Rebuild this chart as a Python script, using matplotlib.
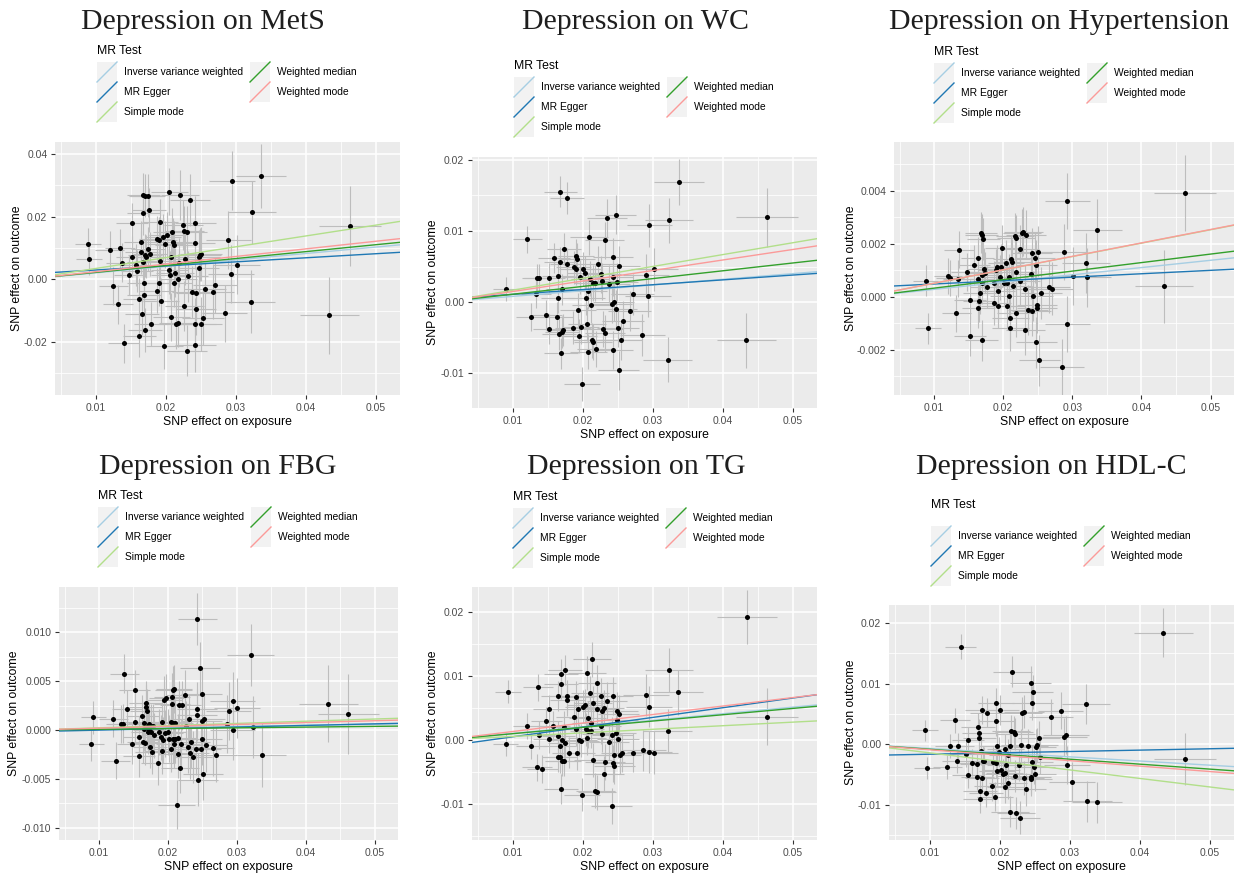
import matplotlib.pyplot as plt
from matplotlib.patches import Rectangle
from matplotlib.lines import Line2D
from matplotlib.ticker import MultipleLocator

plt.rcParams['font.family'] = ['Liberation Sans', 'DejaVu Sans']

W, H = 1250, 874

methods = ['Inverse variance weighted', 'MR Egger', 'Simple mode', 'Weighted median', 'Weighted mode']
method_colors = ['#a6cee3', '#1f78b4', '#b2df8a', '#33a02c', '#fb9a99']

x_ticks = [0.01, 0.02, 0.03, 0.04, 0.05]
x_ticklabels = ['0.01', '0.02', '0.03', '0.04', '0.05']

# ---- Depression on MetS
mets_x = [0.0089, 0.0091, 0.0120, 0.0134, 0.0137, 0.0125, 0.0132, 0.0140, 0.0148, 0.0152,
          0.0152, 0.0157, 0.0159, 0.0162, 0.0162, 0.0164, 0.0165, 0.0166, 0.0168, 0.0168,
          0.0169, 0.0169, 0.0170, 0.0171, 0.0174, 0.0172, 0.0170, 0.0174, 0.0176, 0.0177,
          0.0168, 0.0179, 0.0187, 0.0187, 0.0190, 0.0191, 0.0192, 0.0193, 0.0192, 0.0196,
          0.0198, 0.0199, 0.0202, 0.0205, 0.0205, 0.0206, 0.0207, 0.0208, 0.0209, 0.0210,
          0.0211, 0.0212, 0.0213, 0.0215, 0.0217, 0.0218, 0.0219, 0.0220, 0.0225, 0.0226,
          0.0226, 0.0228, 0.0230, 0.0230, 0.0232, 0.0234, 0.0237, 0.0241, 0.0242, 0.0242,
          0.0242, 0.0243, 0.0243, 0.0247, 0.0248, 0.0249, 0.0250, 0.0250, 0.0253, 0.0256,
          0.0267, 0.0270, 0.0284, 0.0289, 0.0293, 0.0294, 0.0301, 0.0321, 0.0323, 0.0336,
          0.0433, 0.0463]
mets_y = [0.0112, 0.0066, 0.0094, 0.0099, 0.0053, -0.0021, -0.0080, -0.0204, 0.0013, 0.0179,
          0.0072, 0.0045, 0.0027, -0.0064, -0.0180, 0.0119, 0.0086, -0.0111, 0.0269, 0.0211,
          -0.0012, -0.0049, -0.0162, 0.0267, 0.0267, 0.0072, 0.0077, 0.0096, 0.0221, 0.0080,
          0.0056, -0.0143, -0.0036, 0.0130, 0.0126, -0.0011, 0.0184, -0.0069, 0.0059, 0.0134,
          -0.0213, 0.0112, 0.0140, 0.0280, 0.0030, 0.0014, 0.0070, -0.0121, 0.0152, 0.0118,
          -0.0011, 0.0110, 0.0021, -0.0143, 0.0002, -0.0138, 0.0053, 0.0269, 0.0174, 0.0154,
          -0.0085, 0.0064, -0.0228, 0.0152, 0.0009, 0.0253, -0.0040, 0.0117, -0.0211, 0.0181,
          -0.0143, -0.0045, -0.0094, 0.0037, 0.0072, 0.0078, -0.0143, 0.0081, -0.0124, -0.0030,
          -0.0039, -0.0017, -0.0109, 0.0126, 0.0017, 0.0315, 0.0047, -0.0071, 0.0214, 0.0329,
          -0.0115, 0.0170]
mets_se_y = 0.0075
mets_fit = [(0.0, 0.206), (0.00167, 0.130), (0.0, 0.346), (0.0, 0.221), (0.0, 0.243)]
mets_yticks = [-0.02, 0.0, 0.02, 0.04]
mets_yticklabels = ['-0.02', '0.00', '0.02', '0.04']

# ---- Depression on WC
wc_x = [0.0091, 0.0121, 0.0126, 0.0133, 0.0135, 0.0138, 0.0148, 0.0152, 0.0152, 0.0159,
        0.0163, 0.0164, 0.0165, 0.0166, 0.0168, 0.0168, 0.0169, 0.0170, 0.0171, 0.0172,
        0.0173, 0.0177, 0.0177, 0.0186, 0.0187, 0.0190, 0.0191, 0.0192, 0.0193, 0.0194,
        0.0196, 0.0197, 0.0199, 0.0200, 0.0203, 0.0205, 0.0206, 0.0208, 0.0208, 0.0209,
        0.0210, 0.0212, 0.0213, 0.0214, 0.0215, 0.0218, 0.0219, 0.0221, 0.0226, 0.0227,
        0.0229, 0.0231, 0.0232, 0.0235, 0.0238, 0.0241, 0.0243, 0.0243, 0.0243, 0.0244,
        0.0247, 0.0248, 0.0249, 0.0250, 0.0251, 0.0252, 0.0254, 0.0257, 0.0267, 0.0271,
        0.0285, 0.0290, 0.0293, 0.0295, 0.0302, 0.0321, 0.0323, 0.0337, 0.0433, 0.0463]
wc_y = [0.0018, 0.0088, -0.0021, 0.0012, 0.0034, 0.0034, -0.0018, -0.0038, 0.0034, 0.0062,
        -0.0021, 0.0006, 0.0037, -0.0045, 0.0155, 0.0056, -0.0072, -0.0042, 0.0018, -0.0039,
        0.0075, 0.0146, 0.0054, -0.0036, 0.0049, 0.0065, 0.0047, 0.0060, -0.0011, -0.0048,
        0.0035, -0.0035, -0.0115, 0.0046, 0.0041, 0.0006, -0.0031, 0.0015, -0.0070, 0.0091,
        0.0033, -0.0004, -0.0054, 0.0027, -0.0056, 0.0027, -0.0066, 0.0054, 0.0039, 0.0029,
        -0.0038, 0.0087, -0.0044, 0.0118, 0.0025, -0.0003, 0.0035, -0.0067, 0.0063, 0.0000,
        0.0123, -0.0010, 0.0028, -0.0036, -0.0096, 0.0051, -0.0054, -0.0026, -0.0013, 0.0011,
        -0.0046, 0.0038, 0.0009, 0.0108, 0.0046, -0.0081, 0.0115, 0.0169, -0.0054, 0.0119]
wc_se_y = 0.0024
wc_fit = [(0.0, 0.080), (0.0004, 0.068), (0.0, 0.167), (0.0, 0.110), (0.0, 0.148)]
wc_yticks = [-0.01, 0.0, 0.01, 0.02]
wc_yticklabels = ['-0.01', '0.00', '0.01', '0.02']

# ---- Depression on Hypertension
hyp_x = [0.0088, 0.0091, 0.0120, 0.0123, 0.0132, 0.0135, 0.0136, 0.0147, 0.0152, 0.0152,
         0.0158, 0.0163, 0.0163, 0.0164, 0.0165, 0.0166, 0.0168, 0.0169, 0.0169, 0.0169,
         0.0170, 0.0171, 0.0172, 0.0174, 0.0176, 0.0186, 0.0187, 0.0189, 0.0191, 0.0192,
         0.0193, 0.0195, 0.0197, 0.0199, 0.0201, 0.0204, 0.0205, 0.0206, 0.0208, 0.0209,
         0.0210, 0.0210, 0.0212, 0.0213, 0.0214, 0.0217, 0.0219, 0.0219, 0.0219, 0.0224,
         0.0225, 0.0227, 0.0229, 0.0231, 0.0232, 0.0233, 0.0236, 0.0240, 0.0241, 0.0242,
         0.0243, 0.0246, 0.0248, 0.0248, 0.0249, 0.0249, 0.0250, 0.0252, 0.0255, 0.0266,
         0.0270, 0.0285, 0.0288, 0.0293, 0.0293, 0.0301, 0.0320, 0.0322, 0.0336, 0.0433,
         0.0463]
hyp_y = [0.00061, -0.00120, 0.00078, 0.00070, -0.00063, 0.00068, 0.00177, 0.00094, -0.00149, -0.00011,
         0.00119, 0.00066, 0.00148, -0.00043, -0.00018, 0.00013, 0.00241, -0.00165, 0.00081, 0.00233,
         0.00051, 0.00218, 0.00106, 0.00091, 0.00035, -0.00025, 0.00051, 0.00099, 0.00114, 0.00023,
         -0.00035, 0.00073, 0.00114, 0.00185, 0.00053, 0.00129, -0.00035, 0.00051, 0.00003, 0.00076,
         -0.00082, -0.00120, 0.00142, 0.00132, 0.00041, 0.00228, -0.00063, 0.00220, 0.00095, 0.00181,
         0.00061, 0.00241, 0.00246, 0.00028, -0.00127, 0.00235, -0.00051, 0.00086, -0.00054, 0.00165,
         0.00003, 0.00148, -0.00173, 0.00120, -0.00030, -0.00043, 0.00170, -0.00241, 0.00013, 0.00038,
         0.00030, -0.00266, 0.00170, 0.00361, -0.00104, 0.00078, 0.00128, 0.00073, 0.00253, 0.00039,
         0.00392]
hyp_se_y = 0.00085
hyp_fit = [(0.0, 0.0275), (0.00035, 0.0129), (0.0, 0.0506), (0.0, 0.0322), (0.0, 0.0508)]
hyp_yticks = [-0.002, 0.0, 0.002, 0.004]
hyp_yticklabels = ['-0.002', '0.000', '0.002', '0.004']

# ---- Depression on FBG
fbg_x = [0.0089, 0.0092, 0.0121, 0.0124, 0.0132, 0.0135, 0.0137, 0.0141, 0.0148, 0.0152,
         0.0152, 0.0158, 0.0158, 0.0163, 0.0164, 0.0165, 0.0166, 0.0167, 0.0168, 0.0168,
         0.0169, 0.0170, 0.0171, 0.0172, 0.0173, 0.0174, 0.0175, 0.0176, 0.0177, 0.0179,
         0.0180, 0.0186, 0.0187, 0.0190, 0.0191, 0.0192, 0.0193, 0.0195, 0.0196, 0.0198,
         0.0200, 0.0202, 0.0204, 0.0205, 0.0206, 0.0206, 0.0207, 0.0207, 0.0208, 0.0209,
         0.0209, 0.0210, 0.0211, 0.0213, 0.0214, 0.0215, 0.0216, 0.0218, 0.0219, 0.0220,
         0.0225, 0.0226, 0.0229, 0.0231, 0.0232, 0.0233, 0.0236, 0.0241, 0.0242, 0.0242,
         0.0243, 0.0244, 0.0247, 0.0248, 0.0249, 0.0249, 0.0249, 0.0251, 0.0253, 0.0256,
         0.0266, 0.0270, 0.0286, 0.0288, 0.0294, 0.0294, 0.0300, 0.0320, 0.0323, 0.0336,
         0.0433, 0.0462]
fbg_y = [-0.00146, 0.00129, 0.00115, -0.00312, 0.00064, 0.00064, 0.00576, 0.00210, -0.00139, 0.00407,
         0.00081, -0.00068, -0.00264, 0.00142, -0.00119, 0.00068, 0.00007, -0.00136, 0.00278, 0.00237,
         0.00197, 0.00027, -0.00020, 0.00061, 0.00000, -0.00169, 0.00041, -0.00020, -0.00220, 0.00041,
         -0.00054, -0.00332, -0.00020, -0.00075, 0.00085, -0.00217, -0.00102, 0.00312, -0.00034, 0.00332,
         -0.00020, -0.00088, 0.00081, -0.00190, 0.00339, 0.00271, -0.00088, 0.00075, 0.00407, -0.00142,
         0.00424, 0.00075, -0.00088, -0.00763, -0.00244, -0.00085, 0.00251, -0.00390, -0.00142, 0.00251,
         0.00353, 0.00041, -0.00176, 0.00108, -0.00237, -0.00122, -0.00278, -0.00190, 0.00220, 0.00153,
         0.01132, -0.00508, 0.00634, -0.00197, 0.00366, 0.00095, -0.00088, -0.00447, 0.00108, -0.00156,
         -0.00186, -0.00251, 0.00061, 0.00193, 0.00292, -0.00003, 0.00227, 0.00769, 0.00031, -0.00251,
         0.00271, 0.00166]
fbg_se_y = 0.0024
fbg_fit = [(0.0, 0.012), (-0.00017, 0.016), (0.0, 0.0225), (0.0, 0.0075), (0.0, 0.019)]
fbg_yticks = [-0.010, -0.005, 0.0, 0.005, 0.010]
fbg_yticklabels = ['-0.010', '-0.005', '0.000', '0.005', '0.010']

# ---- Depression on TG
tg_x = [0.0090, 0.0093, 0.0121, 0.0126, 0.0134, 0.0136, 0.0138, 0.0142, 0.0148, 0.0152,
        0.0152, 0.0158, 0.0164, 0.0165, 0.0165, 0.0167, 0.0168, 0.0169, 0.0169, 0.0169,
        0.0170, 0.0171, 0.0173, 0.0173, 0.0174, 0.0175, 0.0177, 0.0178, 0.0180, 0.0187,
        0.0190, 0.0191, 0.0192, 0.0193, 0.0195, 0.0197, 0.0199, 0.0200, 0.0203, 0.0204,
        0.0206, 0.0206, 0.0207, 0.0208, 0.0210, 0.0211, 0.0212, 0.0213, 0.0214, 0.0215,
        0.0218, 0.0220, 0.0220, 0.0220, 0.0226, 0.0226, 0.0227, 0.0227, 0.0230, 0.0230,
        0.0232, 0.0235, 0.0237, 0.0241, 0.0242, 0.0243, 0.0243, 0.0245, 0.0245, 0.0247,
        0.0249, 0.0249, 0.0250, 0.0251, 0.0253, 0.0256, 0.0271, 0.0286, 0.0290, 0.0294,
        0.0295, 0.0302, 0.0321, 0.0323, 0.0336, 0.0434, 0.0463]
tg_y = [-0.00068, 0.00757, 0.00219, -0.00094, -0.00428, 0.00824, 0.00083, -0.00454, 0.00297, 0.00485,
        0.00021, 0.00219, 0.00689, -0.00261, 0.00063, -0.00094, -0.00271, 0.00877, 0.01033, -0.00767,
        -0.00329, 0.00000, -0.00329, 0.00209, 0.01096, -0.00052, 0.00689, 0.00626, -0.00198, 0.00365,
        0.00668, 0.00167, -0.00209, 0.00480, 0.00000, -0.00010, -0.00856, 0.00522, 0.00543, 0.00167,
        0.01043, 0.00026, 0.00339, 0.00136, 0.00730, 0.00261, 0.00146, 0.01263, 0.00574, -0.00313,
        -0.00793, 0.00490, -0.00814, 0.00897, 0.00689, 0.00219, 0.00459, 0.00094, -0.00532, 0.00501,
        -0.00339, 0.00616, -0.00031, -0.01033, 0.00073, 0.00689, -0.00365, -0.00230, -0.00402, 0.00104,
        0.00459, 0.00313, 0.00010, 0.00407, -0.00240, -0.00209, -0.00198, -0.00157, 0.00704, 0.00522,
        -0.00188, -0.00198, 0.00141, 0.01096, 0.00746, 0.01920, 0.00365]
tg_se_y = 0.0026
tg_fit = [(0.0, 0.103), (-0.00102, 0.152), (0.0, 0.056), (0.0, 0.099), (0.0, 0.133)]
tg_yticks = [-0.01, 0.0, 0.01, 0.02]
tg_yticklabels = ['-0.01', '0.00', '0.01', '0.02']

# ---- Depression on HDL-C
hdl_x = [0.0093, 0.0096, 0.0125, 0.0129, 0.0136, 0.0139, 0.0141, 0.0144, 0.0152, 0.0155,
         0.0155, 0.0161, 0.0167, 0.0168, 0.0169, 0.0170, 0.0171, 0.0172, 0.0172, 0.0173,
         0.0174, 0.0175, 0.0176, 0.0178, 0.0180, 0.0182, 0.0189, 0.0190, 0.0193, 0.0194,
         0.0194, 0.0195, 0.0196, 0.0196, 0.0199, 0.0201, 0.0202, 0.0205, 0.0207, 0.0208,
         0.0208, 0.0209, 0.0211, 0.0212, 0.0214, 0.0215, 0.0216, 0.0218, 0.0220, 0.0222,
         0.0222, 0.0223, 0.0228, 0.0229, 0.0230, 0.0232, 0.0234, 0.0234, 0.0237, 0.0240,
         0.0244, 0.0244, 0.0245, 0.0246, 0.0246, 0.0247, 0.0249, 0.0250, 0.0251, 0.0253,
         0.0256, 0.0258, 0.0273, 0.0287, 0.0292, 0.0294, 0.0296, 0.0303, 0.0323, 0.0325,
         0.0338, 0.0433, 0.0464]
hdl_y = [0.00231, -0.00396, -0.00369, -0.00028, 0.00396, -0.00270, -0.00028, 0.01613, -0.00160, 0.00066,
         -0.00506, -0.00303, -0.00319, -0.00534, 0.00292, 0.00182, 0.00110, -0.00765, -0.00908, -0.00105,
         0.00567, -0.00561, -0.00270, -0.00281, -0.00798, 0.00523, -0.00688, -0.00286, -0.00864, 0.00677,
         -0.00303, 0.00385, -0.00435, -0.00028, -0.00121, 0.00567, -0.00424, -0.00490, -0.00468, -0.00083,
         -0.00710, -0.00341, -0.00176, -0.00644, -0.00028, -0.01112, 0.00226, 0.01200, 0.00204, 0.00171,
         -0.00523, -0.01139, -0.00341, -0.01211, -0.00017, 0.00512, -0.00556, 0.00534, -0.00743, -0.00028,
         -0.00534, 0.01018, -0.00578, 0.00677, -0.00286, 0.00870, -0.00380, -0.00484, -0.00039, -0.00011,
         0.00099, -0.00204, 0.00457, 0.00556, 0.00127, 0.00149, -0.00341, -0.00617, 0.00666, -0.00941,
         -0.00958, 0.01844, -0.00248]
hdl_se_y = 0.0025
hdl_fit = [(0.0, -0.069), (-0.00186, 0.0225), (0.0, -0.141), (0.0, -0.082), (0.0, -0.090)]
hdl_yticks = [-0.01, 0.0, 0.01, 0.02]
hdl_yticklabels = ['-0.01', '0.00', '0.01', '0.02']

panels = [
    dict(title='Depression on MetS', x=mets_x, y=mets_y, se_y=mets_se_y, fit=mets_fit,
         yticks=mets_yticks, ylabels=mets_yticklabels, ylim=(-0.0369, 0.0438),
         box=(55, 142, 400, 395), title_xy=(203, 22), leg=(97, 51, 21), ylab_x=17),
    dict(title='Depression on WC', x=wc_x, y=wc_y, se_y=wc_se_y, fit=wc_fit,
         yticks=wc_yticks, ylabels=wc_yticklabels, ylim=(-0.0149, 0.0204),
         box=(472, 157, 817, 408), title_xy=(635, 22), leg=(514, 66, 21), ylab_x=433),
    dict(title='Depression on Hypertension', x=hyp_x, y=hyp_y, se_y=hyp_se_y, fit=hyp_fit,
         yticks=hyp_yticks, ylabels=hyp_yticklabels, ylim=(-0.00372, 0.00585),
         box=(894, 142, 1234, 395), title_xy=(1059, 22), leg=(934, 52, 21), ylab_x=851),
    dict(title='Depression on FBG', x=fbg_x, y=fbg_y, se_y=fbg_se_y, fit=fbg_fit,
         yticks=fbg_yticks, ylabels=fbg_yticklabels, ylim=(-0.01124, 0.01462),
         box=(59, 587, 398, 840), title_xy=(218, 467), leg=(98, 496, 21), ylab_x=14),
    dict(title='Depression on TG', x=tg_x, y=tg_y, se_y=tg_se_y, fit=tg_fit,
         yticks=tg_yticks, ylabels=tg_yticklabels, ylim=(-0.01565, 0.02395),
         box=(472, 587, 817, 840), title_xy=(636, 467), leg=(513, 497, 21), ylab_x=433),
    dict(title='Depression on HDL-C', x=hdl_x, y=hdl_y, se_y=hdl_se_y, fit=hdl_fit,
         yticks=hdl_yticks, ylabels=hdl_yticklabels, ylim=(-0.0158, 0.0230),
         box=(889, 605, 1234, 840), title_xy=(1051, 467), leg=(931, 505, 31), ylab_x=851),
]


def fx(px):
    return px / W


def fy(py):
    return 1 - py / H


fig = plt.figure(figsize=(W / 100, H / 100), dpi=100)
fig.patch.set_facecolor('white')

for p in panels:
    l, t, r, b = p['box']
    ax = fig.add_axes([fx(l), fy(b), (r - l) / W, (b - t) / H])
    ax.set_facecolor('#ebebeb')
    for s in ax.spines.values():
        s.set_visible(False)

    xs, ys = p['x'], p['y']
    # exposure se grows for the rarer, larger-effect variants
    se_x = [0.0012 + 0.07 * v for v in xs]
    se_y = [p['se_y'] * sx / 0.0026 for sx in se_x]

    ax.errorbar(xs, ys, yerr=se_y, fmt='none', ecolor='#bdbdbd', elinewidth=0.8, capsize=0, zorder=2)
    ax.errorbar(xs, ys, xerr=se_x, fmt='none', ecolor='#bdbdbd', elinewidth=0.8, capsize=0, zorder=2)
    ax.scatter(xs, ys, s=13, c='black', linewidths=0, zorder=3)

    for (a, slope), col in zip(p['fit'], method_colors):
        ax.axline((0, a), slope=slope, color=col, lw=1.0, zorder=4)

    ax.set_xlim(0.0042, 0.0534)
    ax.set_ylim(*p['ylim'])
    ax.set_xticks(x_ticks)
    ax.set_xticklabels(x_ticklabels)
    ax.set_yticks(p['yticks'])
    ax.set_yticklabels(p['ylabels'])
    step = p['yticks'][1] - p['yticks'][0]
    ax.xaxis.set_minor_locator(MultipleLocator(0.005))
    ax.yaxis.set_minor_locator(MultipleLocator(step / 2))
    ax.grid(which='major', color='white', lw=1.1)
    ax.grid(which='minor', color='white', lw=0.55)
    ax.set_axisbelow(True)
    ax.tick_params(which='major', length=3, width=0.8, color='#333333', pad=2.5,
                   labelsize=7.5, labelcolor='#4d4d4d')
    ax.tick_params(which='minor', length=0)

    # axis titles
    fig.text(fx((l + r) / 2), fy(b + 27), 'SNP effect on exposure', ha='center', va='center',
             fontsize=8.8, color='black')
    fig.text(fx(p['ylab_x']), fy((t + b) / 2), 'SNP effect on outcome', ha='center', va='center',
             rotation=90, fontsize=8.8, color='black')

    # panel title
    tx, ty = p['title_xy']
    fig.text(fx(tx), fy(ty), p['title'], ha='center', va='center', fontsize=21.5,
             family=['Liberation Serif', 'DejaVu Serif'], color='#1e1e1e')

    # legend
    lx, ly, off = p['leg']
    fig.text(fx(lx), fy(ly), 'MR Test', ha='left', va='center', fontsize=8.8, color='black')
    for i, (m, col) in enumerate(zip(methods, method_colors)):
        c, row = (0, i) if i < 3 else (1, i - 3)
        kx = lx + 153 * c
        ky = ly + off + 20 * row
        fig.add_artist(Rectangle((fx(kx), fy(ky + 10)), 20 / W, 20 / H, transform=fig.transFigure,
                                 facecolor='#f2f2f2', edgecolor='none'))
        fig.add_artist(Line2D([fx(kx), fx(kx + 20)], [fy(ky + 10), fy(ky - 10)],
                              transform=fig.transFigure, color=col, lw=1.0))
        fig.text(fx(kx + 27), fy(ky), m, ha='left', va='center', fontsize=7.4, color='black')

fig.savefig('out.png', dpi=100, facecolor='white')
